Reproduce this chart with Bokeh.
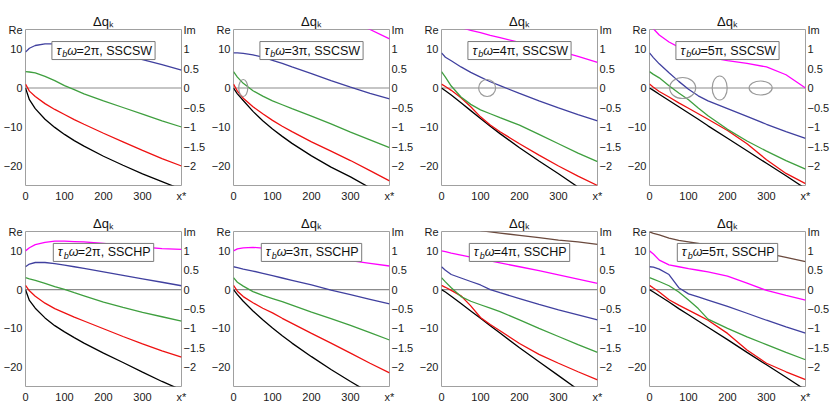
from bokeh.plotting import figure
from bokeh.models import (Range1d, LinearAxis, FixedTicker, CustomJSTickFormatter,
                          Span, Label)
from bokeh.layouts import row, column
from bokeh.embed import file_html
from bokeh.resources import INLINE

NAN = float("nan")

# ---------------- data ----------------
X = [0, 10, 25, 50, 75, 100, 125, 150, 200, 250, 300, 350, 400]

omega_labels = ["2π", "3π", "4π", "5π"]
scheme_labels = ["SSCSW", "SSCHP"]
x_ticks = [0, 100, 200, 300, 400]      # 400 carries the "x*" caption
re_ticks = [-20, -10, 0, 10, 15]       # 15 carries the "Re" caption
im_ticks = [-2, -1.5, -1, -0.5, 0, 0.5, 1, 1.5]   # 1.5 carries the "Im" caption

# SSCSW, tau_b*omega = 2pi
sw2_black = [0, -3.0, -5.3, -8.0, -10.1, -11.9, -13.5, -14.9, -17.5, -19.8, -22.0, -24.0, -26.0]
sw2_red = [1.0, -0.8, -2.2, -4.0, -5.5, -6.8, -8.1, -9.3, -11.6, -13.8, -16.0, -18.1, -20.0]
sw2_green = [4.2, 4.1, 3.9, 3.0, 1.9, 0.6, -0.4, -1.5, -3.3, -5.0, -6.7, -8.4, -10.0]
sw2_blue = [9.2, 10.2, 10.9, 11.3, 11.3, 11.1, 10.8, 10.5, 9.7, 8.7, 7.3, 6.0, 4.6]

# SSCSW, 3pi
sw3_black = [0, -1.5, -3.2, -6.0, -8.4, -10.5, -12.4, -14.2, -17.4, -20.3, -22.8, -25.6, -27.8]
sw3_red = [1.0, -0.8, -2.6, -4.8, -6.6, -8.3, -9.8, -11.2, -13.8, -16.2, -18.6, -21.2, -23.8]
sw3_green = [4.2, 2.8, 1.2, -0.7, -2.1, -3.3, -4.3, -5.3, -7.2, -9.2, -11.3, -13.3, -15.3]
sw3_blue = [9.0, 9.0, 8.9, 8.5, 7.9, 7.1, 6.3, 5.4, 3.7, 1.9, 0.2, -1.4, -2.8]
sw3_magenta = [NAN, NAN, NAN, NAN, NAN, NAN, NAN, NAN, NAN, NAN, 17.2, 15.0, 12.6]
sw3_ell_x = [25]
sw3_ell_w = [9]
sw3_ell_h = [17]

# SSCSW, 4pi
sw4_black = [0, -0.7, -1.8, -3.8, -5.8, -7.8, -9.8, -11.7, -15.3, -18.7, -22.0, -25.4, -28.6]
sw4_red = [1.0, 0.4, -0.6, -2.5, -4.8, -7.4, -9.5, -11.2, -14.3, -17.2, -20.0, -22.6, -25.0]
sw4_green = [4.2, 2.8, 0.5, -2.3, -4.2, -5.6, -6.6, -7.6, -9.5, -11.9, -14.3, -16.7, -18.9]
sw4_blue = [9.0, 7.9, 7.0, 5.4, 4.0, 2.8, 1.6, 0.6, -1.4, -3.3, -5.1, -6.8, -8.4]
sw4_magenta = [NAN, NAN, NAN, 15.5, 14.8, 14.2, 13.5, 12.9, 11.7, 10.6, 9.5, 8.1, 6.6]
sw4_ell_x = [117]
sw4_ell_w = [17]
sw4_ell_h = [17]

# SSCSW, 5pi
sw5_black = [0, -0.6, -1.6, -3.2, -4.8, -6.4, -8.0, -9.7, -12.9, -16.1, -19.3, -22.5, -25.8]
sw5_red = [1.0, 0.2, -0.9, -2.3, -3.8, -5.2, -6.6, -8.0, -10.9, -14.3, -18.4, -21.9, -24.5]
sw5_green = [4.2, 3.5, 2.6, 0.6, -1.3, -3.0, -5.1, -7.1, -10.6, -13.6, -16.2, -18.6, -20.8]
sw5_blue = [9.0, 7.8, 6.2, 3.9, 1.7, -0.3, -2.0, -3.3, -5.3, -7.3, -9.3, -11.2, -12.9]
sw5_magenta = [16.5, 15.2, 13.6, 11.8, 10.5, 9.3, 8.5, 7.9, 7.0, 6.3, 5.4, 3.4, 0.0]
sw5_ell_x = [85, 180, 285]
sw5_ell_w = [26, 15, 23]
sw5_ell_h = [21, 24, 14]

# SSCHP, 2pi
hp2_black = [0, -2.8, -4.8, -7.3, -9.3, -10.9, -12.4, -13.8, -16.4, -18.8, -21.3, -23.7, -25.9]
hp2_red = [1.1, -0.3, -1.7, -3.5, -4.9, -6.0, -7.1, -8.1, -10.1, -12.1, -14.0, -15.8, -17.4]
hp2_green = [3.1, 2.8, 2.4, 1.6, 0.8, 0.05, -0.8, -1.6, -3.2, -4.6, -5.9, -7.0, -8.1]
hp2_blue = [5.9, 6.6, 7.0, 7.0, 6.7, 6.3, 5.9, 5.5, 4.6, 3.7, 2.8, 1.9, 1.0]
hp2_magenta = [10.0, 10.8, 11.6, 12.2, 12.5, 12.5, 12.4, 12.3, 11.9, 11.5, 11.0, 10.6, 10.4]

# SSCHP, 3pi
hp3_black = [0, -1.3, -3.0, -5.5, -7.8, -9.9, -11.9, -13.8, -17.3, -20.6, -23.7, -26.7, -29.5]
hp3_red = [1.1, -0.4, -1.8, -3.4, -4.8, -6.0, -7.4, -8.7, -11.3, -13.8, -16.4, -19.0, -21.5]
hp3_green = [3.1, 1.9, 0.9, -0.5, -1.5, -2.3, -3.1, -4.0, -5.8, -7.5, -9.2, -11.1, -13.0]
hp3_blue = [5.9, 5.7, 5.3, 4.8, 4.2, 3.6, 3.0, 2.4, 1.2, -0.1, -1.3, -2.5, -3.7]
hp3_magenta = [10.0, 10.5, 10.8, 10.9, 10.7, 10.4, 10.1, 9.8, 9.0, 8.2, 7.5, 6.8, 6.1]

# SSCHP, 4pi
hp4_black = [0, -0.6, -1.7, -3.6, -5.5, -7.4, -9.3, -11.2, -15.0, -18.6, -22.2, -25.8, -29.2]
hp4_red = [1.1, 0.6, -0.2, -1.6, -4.2, -7.2, -9.0, -10.6, -13.9, -16.7, -19.0, -21.2, -23.3]
hp4_green = [3.1, 2.0, 0.5, -1.8, -3.0, -3.9, -4.8, -5.7, -7.8, -10.0, -12.1, -14.2, -16.2]
hp4_blue = [5.9, 5.0, 3.9, 3.0, 2.1, 1.2, 0.0, -0.8, -2.3, -3.8, -5.2, -6.5, -7.8]
hp4_magenta = [10.0, 9.8, 9.4, 8.9, 8.4, 7.9, 7.4, 6.9, 5.9, 4.9, 3.8, 2.7, 1.6]
hp4_brown = [NAN, NAN, NAN, NAN, NAN, 15.2, 14.9, 14.6, 14.0, 13.4, 12.8, 12.3, 11.7]

# SSCHP, 5pi
hp5_black = [0, -0.6, -1.6, -3.2, -4.9, -6.5, -8.1, -9.7, -12.9, -16.2, -19.4, -22.6, -25.9]
hp5_red = [1.1, 0.4, -0.6, -2.6, -4.0, -5.3, -6.6, -7.9, -11.3, -15.6, -19.0, -21.2, -23.2]
hp5_green = [3.1, 2.7, 2.1, 1.0, -0.6, -2.7, -4.9, -7.6, -10.0, -12.2, -14.2, -16.2, -18.1]
hp5_blue = [5.9, 5.8, 5.3, 3.9, 0.5, -1.1, -1.9, -2.7, -4.3, -6.1, -7.9, -9.6, -11.2]
hp5_magenta = [10.0, 9.2, 7.6, 6.4, 5.9, 5.4, 5.0, 4.6, 3.5, 1.7, -0.2, -1.5, -2.7]
hp5_brown = [14.9, 14.5, 14.1, 13.3, 12.7, 12.3, 11.9, 11.5, 10.8, 10.0, 9.4, 8.3, 7.2]

COL = {"black": "#000000", "red": "#ee1111", "green": "#3f9f3f",
       "blue": "#40409f", "magenta": "#ff00ff", "brown": "#6b4a3e"}

PANELS = [
    [  # row 1: SSCSW
        ([("black", sw2_black), ("red", sw2_red), ("green", sw2_green), ("blue", sw2_blue)],
         ([], [], [])),
        ([("black", sw3_black), ("red", sw3_red), ("green", sw3_green), ("blue", sw3_blue),
          ("magenta", sw3_magenta)], (sw3_ell_x, sw3_ell_w, sw3_ell_h)),
        ([("black", sw4_black), ("red", sw4_red), ("green", sw4_green), ("blue", sw4_blue),
          ("magenta", sw4_magenta)], (sw4_ell_x, sw4_ell_w, sw4_ell_h)),
        ([("black", sw5_black), ("red", sw5_red), ("green", sw5_green), ("blue", sw5_blue),
          ("magenta", sw5_magenta)], (sw5_ell_x, sw5_ell_w, sw5_ell_h)),
    ],
    [  # row 2: SSCHP
        ([("black", hp2_black), ("red", hp2_red), ("green", hp2_green), ("blue", hp2_blue),
          ("magenta", hp2_magenta)], ([], [], [])),
        ([("black", hp3_black), ("red", hp3_red), ("green", hp3_green), ("blue", hp3_blue),
          ("magenta", hp3_magenta)], ([], [], [])),
        ([("black", hp4_black), ("red", hp4_red), ("green", hp4_green), ("blue", hp4_blue),
          ("magenta", hp4_magenta), ("brown", hp4_brown)], ([], [], [])),
        ([("black", hp5_black), ("red", hp5_red), ("green", hp5_green), ("blue", hp5_blue),
          ("magenta", hp5_magenta), ("brown", hp5_brown)], ([], [], [])),
    ],
]

# ---------------- styling / layout ----------------
FONT = "Liberation Sans"
TICK_FS = 11
LEG_FS = 12.5
SUB_FS = 9
BOX_Y = 9.6
FW = 156
FRAME_GRAY = "#a0a0a0"
CW = {'τ': 0.47, 'b': 0.556, 'ω': 0.73, '=': 0.584, '2': 0.556, '3': 0.556, '4': 0.556,
      '5': 0.556, 'π': 0.57, ',': 0.278, ' ': 0.278, 'S': 0.667, 'C': 0.722, 'W': 0.944,
      'H': 0.722, 'P': 0.667}


def tw(s, fs):
    return sum(CW.get(ch, 0.6) for ch in s) * fs


fmt = CustomJSTickFormatter(code="""
if (tick === 15) return "Re";
if (tick === 1.5) return "Im";
if (tick === 400) return "x*";
const a = Math.abs(tick);
const s = String(Math.round(a * 100) / 100);
return tick < 0 ? "\u2212" + s : s;
""")


def style_axis(ax, standoff):
    ax.axis_line_color = None
    ax.major_tick_line_color = None
    ax.minor_tick_line_color = None
    ax.major_tick_in = 0
    ax.major_tick_out = 0
    ax.minor_tick_in = 0
    ax.minor_tick_out = 0
    ax.major_label_text_font = FONT
    ax.major_label_text_font_size = f"{TICK_FS}px"
    ax.major_label_text_color = "#1a1a1a"
    ax.major_label_standoff = standoff
    ax.formatter = fmt


def lab(p, x, y, text, fs, style="normal", xo=0, yo=0):
    p.add_layout(Label(x=x, y=y, x_offset=xo, y_offset=yo, text=text,
                       text_font=FONT, text_font_size=f"{fs}px", text_font_style=style,
                       text_align="left", text_baseline="middle", text_color="#111111"))


def make_panel(r, c, curves, ells):
    fh = 156 if r == 0 else 155
    p = figure(frame_width=FW, frame_height=fh,
               x_range=Range1d(0, 400), y_range=Range1d(-25, 15),
               output_backend="svg", toolbar_location=None,
               min_border_left=23 if c == 0 else 24, min_border_right=24,
               min_border_top=29 if r == 0 else 25,
               min_border_bottom=21 if r == 0 else 18)
    p.background_fill_color = "white"
    p.border_fill_color = "white"
    p.outline_line_color = FRAME_GRAY
    p.outline_line_width = 1
    p.xgrid.visible = False
    p.ygrid.visible = False

    # panel title  Δq_k
    p.title.text = "Δqₖ"
    p.title.align = "center"
    p.title.text_font = FONT
    p.title.text_font_size = "13px"
    p.title.text_font_style = "normal"
    p.title.text_color = "#111111"
    p.title.standoff = 2

    p.xaxis.ticker = FixedTicker(ticks=x_ticks)
    p.yaxis.ticker = FixedTicker(ticks=re_ticks)
    style_axis(p.xaxis[0], 4)
    style_axis(p.yaxis[0], 3)

    p.extra_y_ranges = {"im": Range1d(-2.5, 1.5)}
    ax = LinearAxis(y_range_name="im", ticker=FixedTicker(ticks=im_ticks))
    style_axis(ax, 2)
    p.add_layout(ax, "right")

    p.add_layout(Span(location=0, dimension="width", line_color="#8c8c8c",
                      line_width=1.2, level="underlay"))

    for name, ys in curves:
        p.line(X, ys, line_color=COL[name], line_width=1.3)

    ex, ew, eh = ells
    if ex:
        p.ellipse(x=ex, y=[0] * len(ex), width=ew, height=eh,
                  width_units="screen", height_units="screen",
                  fill_color=None, line_color="#9a9a9a", line_width=1.2)

    # legend box
    pieces = [("τ", LEG_FS, "italic", 0), ("b", SUB_FS, "italic", -3.5),
              ("ω", LEG_FS, "italic", 0),
              ("=" + omega_labels[c] + ", " + scheme_labels[r], LEG_FS, "normal", 0)]
    total = sum(tw(t, fs) for t, fs, _, _ in pieces)
    p.rect(x=[200], y=[BOX_Y], width=[total + 9], height=[18],
           width_units="screen", height_units="screen",
           fill_color="white", line_color="#7a7a7a", line_width=1)
    xo = -total / 2
    for t, fs, st, dy in pieces:
        lab(p, 200, BOX_Y, t, fs, style=st, xo=xo, yo=dy)
        xo += tw(t, fs)
    return p


rows = []
for r in range(2):
    figs = [make_panel(r, c, PANELS[r][c][0], PANELS[r][c][1]) for c in range(4)]
    rows.append(row(*figs))
layout = column(*rows)

open("out.html", "w").write(file_html(layout, INLINE))
